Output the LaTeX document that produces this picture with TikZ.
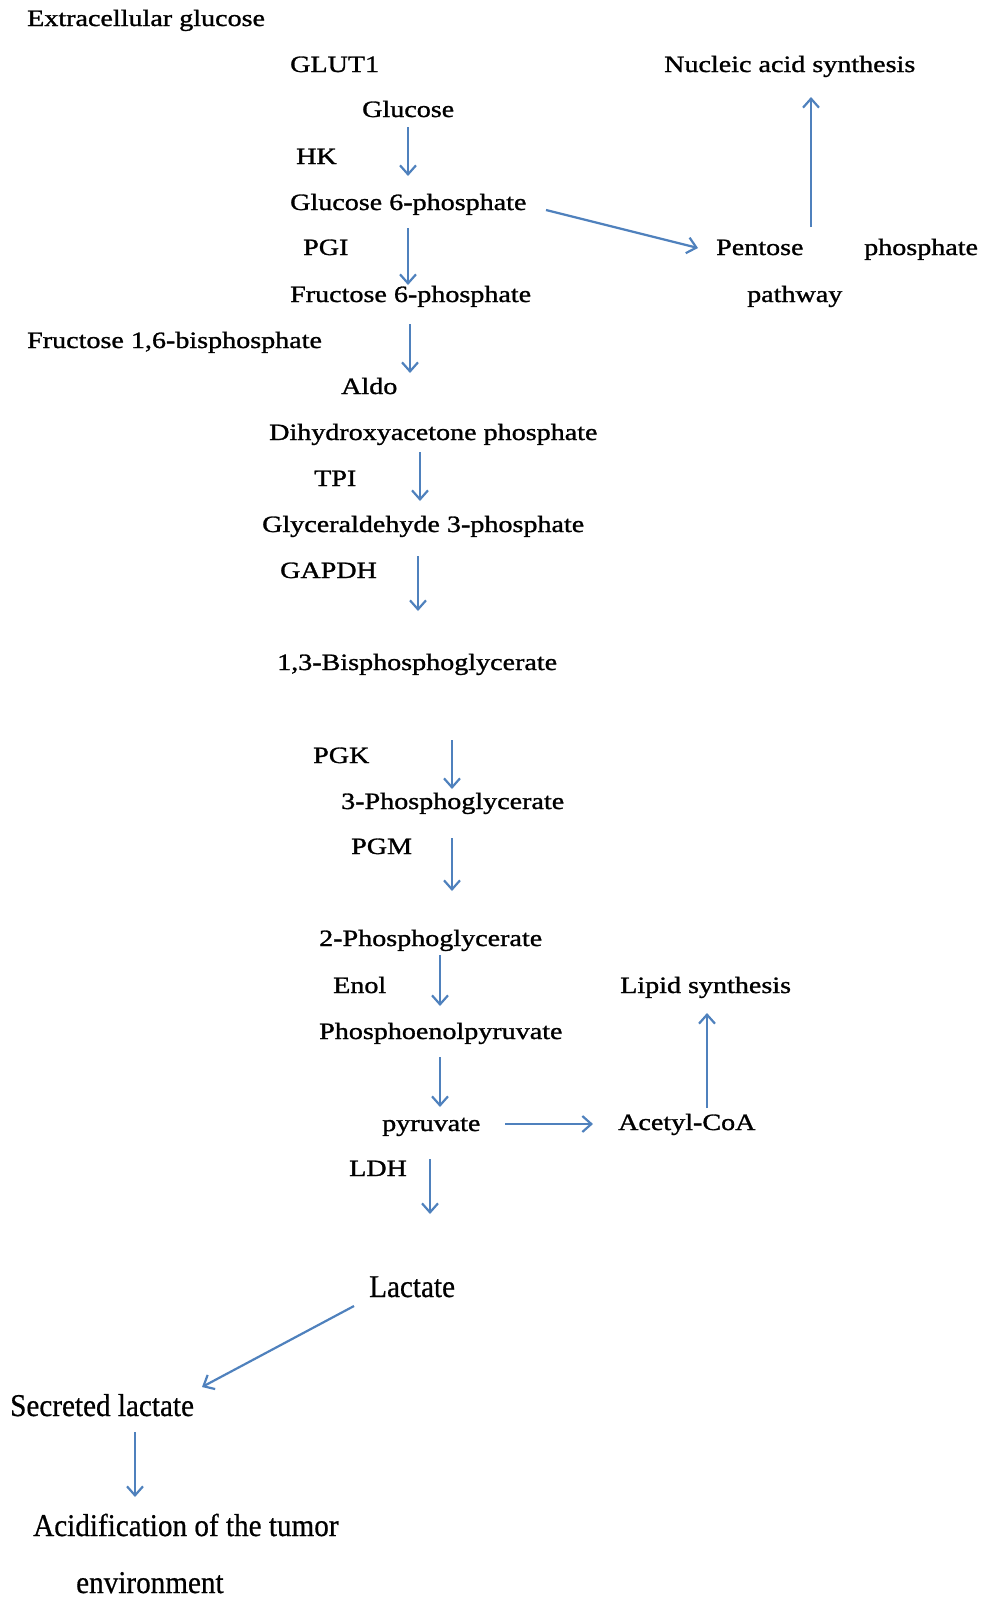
\documentclass[tikz,border=0pt]{standalone}
\usepackage{fontspec}
\setmainfont{Liberation Serif}
\newfontfamily\metfont[FakeStretch=1.2,FakeBold=1.2]{Liberation Serif}
\newfontfamily\lacfont[FakeStretch=0.92,FakeBold=0.6]{Liberation Serif}
\usetikzlibrary{arrows.meta}
\definecolor{flowblue}{RGB}{79,129,189}

\begin{document}
\begin{tikzpicture}[x=1pt,y=-1pt,
		every node/.style={inner sep=0pt,anchor=base west},
		met/.style={font=\metfont\fontsize{23.4pt}{28pt}\selectfont},
		lac/.style={font=\lacfont\fontsize{31.7pt}{38pt}\selectfont},
		every edge/.append style={draw=flowblue,line width=2.2pt,-{Straight Barb[length=9pt,width=16pt]}}
		]
		\useasboundingbox (0,0) rectangle (984,1598);
		\node[met] (exglc) at (27,26) {Extracellular glucose};
		\node[met] (glut) at (290,72) {GLUT1};
		\node[met] (nas) at (664,72) {Nucleic acid synthesis};
		\node[met] (glc) at (362,117) {Glucose};
		\node[met] (hk) at (296,164) {HK};
		\node[met] (g6p) at (290,210) {Glucose 6-phosphate};
		\node[met] (pgi) at (303,255) {PGI};
		\node[met] (pent) at (716,255) {Pentose};
		\node[met] (phos) at (864,255) {phosphate};
		\node[met] (pathw) at (747,302) {pathway};
		\node[met] (f6p) at (290,302) {Fructose 6-phosphate};
		\node[met] (f16bp) at (27,348) {Fructose 1,6-bisphosphate};
		\node[met] (aldo) at (341,394) {Aldo};
		\node[met] (dhap) at (269,440) {Dihydroxyacetone phosphate};
		\node[met] (tpi) at (314,486) {TPI};
		\node[met] (g3p) at (262,532) {Glyceraldehyde 3-phosphate};
		\node[met] (gapdh) at (280,578) {GAPDH};
		\node[met] (bpg) at (277,670) {1,3-Bisphosphoglycerate};
		\node[met] (pgk) at (313,763) {PGK};
		\node[met] (pg3) at (341,809) {3-Phosphoglycerate};
		\node[met] (pgm) at (351,854) {PGM};
		\node[met] (pg2) at (319,946) {2-Phosphoglycerate};
		\node[met] (enol) at (333,993) {Enol};
		\node[met] (lipid) at (620,993) {Lipid synthesis};
		\node[met] (pep) at (319,1039) {Phosphoenolpyruvate};
		\node[met] (pyr) at (382,1131) {pyruvate};
		\node[met] (acoa) at (618,1130) {Acetyl-CoA};
		\node[met] (ldh) at (349,1176) {LDH};
		\node[lac] (lact) at (369,1297) {Lactate};
		\node[lac] (sec) at (10,1416) {Secreted lactate};
		\node[lac] (acid) at (33,1536) {Acidification of the tumor};
		\node[lac] (env) at (76,1593) {environment};
		
		\path ([xshift=46pt,yshift=-10pt]glc.base west) edge ([xshift=118pt,yshift=34pt]g6p.base west);
		\path ([xshift=118pt,yshift=-18pt]g6p.base west) edge ([xshift=118pt,yshift=17pt]f6p.base west);
		\path ([xshift=120pt,yshift=-22pt]f6p.base west) edge ([xshift=69pt,yshift=21pt]aldo.base west);
		\path ([xshift=151pt,yshift=-12pt]dhap.base west) edge ([xshift=158pt,yshift=31pt]g3p.base west);
		\path ([xshift=156pt,yshift=-24pt]g3p.base west) edge ([xshift=141pt,yshift=59pt]bpg.base west);
		\path ([xshift=175pt,yshift=-70pt]bpg.base west) edge ([xshift=111pt,yshift=20pt]pg3.base west);
		\path ([xshift=111pt,yshift=-29pt]pg3.base west) edge ([xshift=133pt,yshift=55pt]pg2.base west);
		\path ([xshift=121pt,yshift=-9pt]pg2.base west) edge ([xshift=121pt,yshift=33pt]pep.base west);
		\path ([xshift=121pt,yshift=-18pt]pep.base west) edge ([xshift=58pt,yshift=24pt]pyr.base west);
		\path ([xshift=48pt,yshift=-28pt]pyr.base west) edge ([xshift=61pt,yshift=83pt]lact.base west);
		\path ([xshift=-15pt,yshift=-9pt]lact.base west) edge ([xshift=192pt,yshift=29pt]sec.base west);
		\path ([xshift=125pt,yshift=-16pt]sec.base west) edge ([xshift=102pt,yshift=39pt]acid.base west);
		\path ([xshift=256pt,yshift=0pt]g6p.base west) edge ([xshift=-18pt,yshift=7pt]pent.base west);
		\path ([xshift=95pt,yshift=28pt]pent.base west) edge ([xshift=147pt,yshift=-25pt]nas.base west);
		\path ([xshift=123pt,yshift=7pt]pyr.base west) edge ([xshift=-25pt,yshift=6pt]acoa.base west);
		\path ([xshift=89pt,yshift=22pt]acoa.base west) edge ([xshift=87pt,yshift=-20pt]lipid.base west);
	\end{tikzpicture}
\end{document}
